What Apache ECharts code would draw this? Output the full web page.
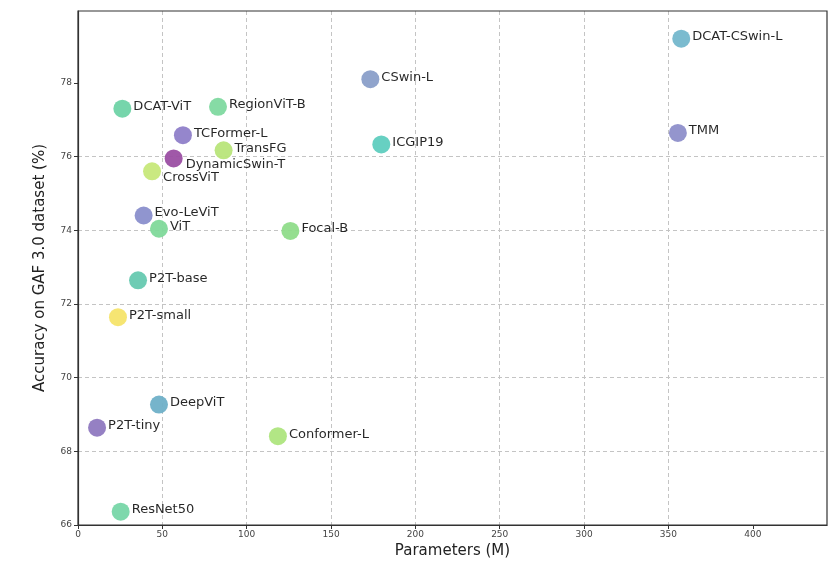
<!DOCTYPE html>
<html>
<head>
<meta charset="utf-8">
<script src="https://cdn.jsdelivr.net/npm/echarts@6/dist/echarts.min.js"></script>
<style>html,body{margin:0;padding:0;background:#fff}#c{width:838px;height:567px}</style>
</head>
<body>
<div id="c"></div>
<script>
const models = ["DCAT-CSwin-L","CSwin-L","TMM","ICGIP19","DCAT-ViT","RegionViT-B","TCFormer-L","TransFG","DynamicSwin-T","CrossViT","Evo-LeViT","ViT","Focal-B","P2T-base","P2T-small","DeepViT","P2T-tiny","Conformer-L","ResNet50"];
const params = [357.6,173.3,355.6,179.8,26.3,83.0,62.2,86.3,56.7,43.9,38.9,48.0,125.9,35.6,23.7,48.0,11.3,118.5,25.3];
const accuracy = [79.2,78.1,76.64,76.33,77.3,77.35,76.58,76.17,75.95,75.6,74.4,74.04,73.98,72.64,71.64,69.27,68.64,68.41,66.36];
const xTicks = [0,50,100,150,200,250,300,350,400];
const yTicks = [66,68,70,72,74,76,78];

// styles (not data)
const colors = ["#74b7cc","#8a9fc9","#8e8fca","#5fcdbf","#6fd3a6","#7fd9a0","#8f7fc9","#b8e57a","#9b4fa3","#c7e87a","#8a8fcc","#7fd99a","#8fdc8a","#66c9b0","#f5e46a","#6fb0c8","#8f79c0","#aee57e","#77d6a8"];
const labelShift = {"DynamicSwin-T":[1,6],"CrossViT":[0,6],"Evo-LeViT":[0,-3]};

const data = models.map((m,i)=>{
  const sh = labelShift[m] || [0,-2];
  return {
    name: m,
    value: [params[i], accuracy[i]],
    itemStyle: {color: colors[i]},
    label: {offset: sh}
  };
});

const chart = echarts.init(document.getElementById('c'));
chart.setOption({
  animation: false,
  backgroundColor: '#fff',
  grid: {left: 78, right: 11, top: 11, bottom: 42, show: true, borderColor: '#333', borderWidth: 1.2, backgroundColor: 'transparent', z: 3},
  xAxis: {
    type: 'value', min: 0, max: 444, interval: 50,
    name: 'Parameters (M)', nameLocation: 'middle', nameGap: 19,
    nameTextStyle: {fontFamily: 'DejaVu Sans', fontSize: 15, color: '#222'},
    axisLine: {show: true, lineStyle: {color: '#333', width: 1.2}},
    axisTick: {show: true, length: 4, lineStyle: {color: '#333'}, customValues: xTicks},
    axisLabel: {fontFamily: 'DejaVu Sans', fontSize: 9, color: '#444', margin: 5, customValues: xTicks},
    splitLine: {show: true, showMaxLine: false, showMinLine: false, lineStyle: {color: '#c4c4c4', type: [4,3], width: 1}}
  },
  yAxis: {
    type: 'value', min: 66, max: 79.95, interval: 2,
    name: 'Accuracy on GAF 3.0 dataset (%)', nameLocation: 'middle', nameGap: 30,
    nameTextStyle: {fontFamily: 'DejaVu Sans', fontSize: 15, color: '#222'},
    axisLine: {show: true, lineStyle: {color: '#333', width: 1.2}},
    axisTick: {show: true, length: 4, lineStyle: {color: '#333'}, customValues: yTicks},
    axisLabel: {fontFamily: 'DejaVu Sans', fontSize: 9, color: '#444', margin: 6, customValues: yTicks},
    splitLine: {show: true, showMaxLine: false, showMinLine: false, lineStyle: {color: '#c4c4c4', type: [4,3], width: 1}}
  },
  series: [{
    type: 'scatter',
    symbolSize: 18,
    data: data,
    itemStyle: {opacity: 0.95},
    label: {
      show: true, position: 'right', distance: 2,
      formatter: p => p.name,
      fontFamily: 'DejaVu Sans', fontSize: 13, color: '#1a1a1a'
    }
  }]
});
</script>
</body>
</html>
